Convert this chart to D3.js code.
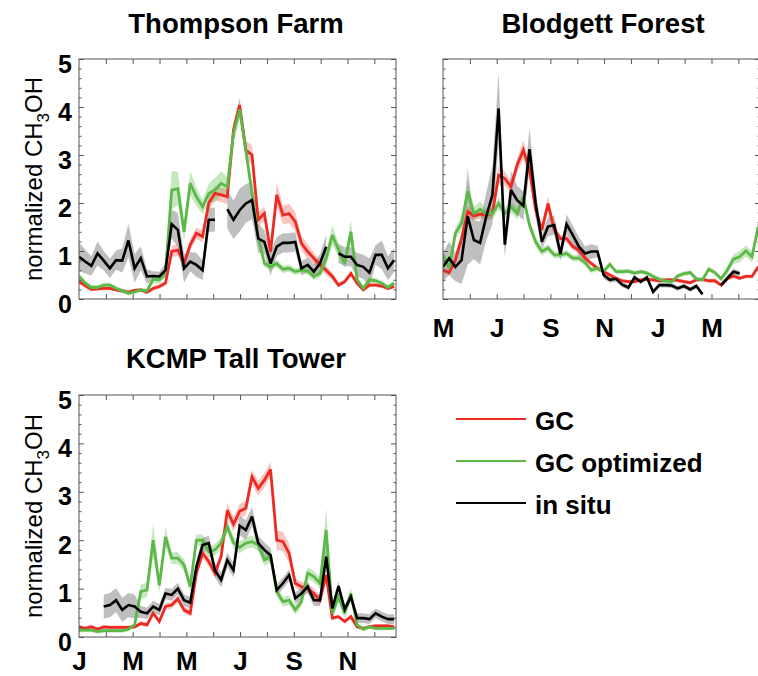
<!DOCTYPE html>
<html><head><meta charset="utf-8">
<script src="https://cdn.jsdelivr.net/npm/d3@7"></script>
<style>body{margin:0;background:#fff}svg{display:block}text{font-family:"Liberation Sans",Arial,Helvetica,sans-serif}</style>
</head><body><svg id="c" width="758" height="676"></svg>
<script>
// ---------- data (weekly values, week 0 = first week of the first month shown) ----------
const weeks = d3.range(52);
const yTickValues = [0, 1, 2, 3, 4, 5];
const monthTickIdx = [1, 2, 3, 4, 5, 6, 7, 8, 9, 10, 11];
const janLabels = ["J", "M", "M", "J", "S", "N"];
const mayLabels = ["M", "J", "S", "N", "J", "M"];
const labelMonths = [0, 2, 4, 6, 8, 10];
const legendLabels = ["GC", "GC optimized", "in situ"];
const titles = ["Thompson Farm", "Blodgett Forest", "KCMP Tall Tower"];

// Thompson Farm (Jan - Dec)
const tfGC = [0.36,0.28,0.2,0.21,0.22,0.22,0.19,0.17,0.14,0.18,0.19,0.14,0.22,0.26,0.33,0.99,1.02,0.74,1.13,1.37,1.3,2.0,2.2,2.17,2.13,3.52,4.04,3.1,3.0,1.65,1.78,0.99,2.17,1.75,1.78,1.61,1.16,0.99,0.85,0.71,0.6,0.47,0.29,0.36,0.53,0.33,0.19,0.29,0.29,0.27,0.22,0.26];
const tfOpt = [0.47,0.33,0.24,0.24,0.29,0.29,0.22,0.17,0.12,0.15,0.19,0.17,0.41,0.4,0.57,2.27,2.3,1.4,2.41,2.13,1.92,2.2,2.27,2.41,2.34,3.45,3.95,3.1,2.2,1.3,0.74,0.67,0.74,0.62,0.64,0.57,0.6,0.58,0.47,0.53,0.85,1.33,1.02,0.74,1.4,0.4,0.22,0.4,0.38,0.33,0.24,0.33];
const tfObs = [0.88,0.78,0.69,0.95,0.8,0.64,0.81,0.8,1.22,0.64,0.85,0.47,0.48,0.47,0.6,1.56,1.44,0.64,0.78,0.71,0.6,1.65,1.65,null,1.87,1.65,1.85,1.99,2.06,1.26,1.19,0.74,1.09,1.17,1.17,1.19,0.64,0.71,0.57,0.74,1.09,null,0.95,0.88,0.88,0.71,0.67,0.55,0.92,0.92,0.64,0.81];
const tfGCsd = [0.05,0.05,0.04,0.04,0.04,0.04,0.04,0.04,0.04,0.04,0.04,0.04,0.04,0.05,0.05,0.12,0.12,0.1,0.12,0.12,0.12,0.15,0.15,0.15,0.15,0.15,0.15,0.2,0.2,0.15,0.15,0.1,0.25,0.2,0.2,0.2,0.15,0.15,0.12,0.1,0.1,0.08,0.05,0.05,0.05,0.05,0.04,0.04,0.04,0.04,0.04,0.04];
const tfOptSd = [0.08,0.06,0.05,0.05,0.05,0.05,0.05,0.05,0.04,0.04,0.04,0.05,0.08,0.08,0.1,0.4,0.35,0.2,0.25,0.2,0.15,0.2,0.25,0.25,0.2,0.2,0.2,0.2,0.15,0.1,0.08,0.08,0.08,0.08,0.08,0.07,0.07,0.07,0.07,0.08,0.15,0.2,0.15,0.1,0.25,0.08,0.06,0.06,0.06,0.05,0.05,0.06];
const tfObsSd = [0.3,0.25,0.2,0.25,0.2,0.2,0.2,0.25,0.35,0.3,0.25,0.15,0.1,0.1,0.15,0.3,0.35,0.3,0.2,0.25,0.2,0.25,0.25,0.3,0.4,0.4,0.45,0.4,0.4,0.3,0.25,0.25,0.2,0.2,0.2,0.2,0.15,0.15,0.15,0.2,0.25,0.2,0.2,0.2,0.2,0.25,0.25,0.3,0.2,0.3,0.25,0.25];

// Blodgett Forest (May - Apr)
const bfGC = [0.6,0.55,0.81,1.26,1.82,1.73,1.77,1.75,1.78,2.58,2.51,2.34,2.79,3.1,2.69,1.85,1.44,1.99,1.44,1.26,1.26,1.09,1.02,0.85,0.74,0.64,0.57,0.5,0.43,0.38,0.36,0.36,0.4,0.41,0.4,0.38,0.4,0.4,0.39,0.36,0.34,0.4,0.41,0.38,0.38,0.29,0.42,0.48,0.43,0.47,0.47,0.67];
const bfOpt = [0.92,0.64,1.37,1.58,2.24,1.78,1.87,1.77,1.78,1.99,1.78,1.92,1.78,2.13,1.54,1.19,0.99,1.06,0.92,0.92,0.95,0.85,0.85,0.76,0.6,0.64,0.58,0.72,0.57,0.57,0.58,0.54,0.57,0.54,0.47,0.41,0.38,0.36,0.48,0.53,0.55,0.42,0.4,0.62,0.55,0.42,0.6,0.83,0.88,1.0,0.88,1.5];
const bfObs = [0.67,0.85,0.67,0.81,1.72,1.23,1.17,1.72,2.17,3.97,1.13,2.27,2.06,1.94,3.12,1.99,1.19,1.51,1.54,0.94,1.56,1.33,1.09,0.95,0.99,0.99,0.5,0.4,0.42,0.3,0.24,0.45,0.36,0.45,0.15,0.29,0.29,0.28,0.22,0.27,0.2,0.27,0.1,null,null,0.29,0.43,0.57,0.53,null,null,null];
const bfGCsd = [0.06,0.06,0.08,0.1,0.12,0.1,0.1,0.1,0.1,0.2,0.15,0.12,0.15,0.2,0.15,0.12,0.1,0.15,0.1,0.08,0.08,0.07,0.07,0.06,0.05,0.05,0.04,0.04,0.04,0.04,0.04,0.04,0.04,0.04,0.04,0.04,0.04,0.04,0.04,0.04,0.04,0.04,0.04,0.04,0.04,0.04,0.04,0.04,0.04,0.04,0.04,0.05];
const bfOptSd = [0.1,0.1,0.12,0.15,0.2,0.15,0.15,0.12,0.12,0.12,0.12,0.12,0.12,0.12,0.12,0.1,0.08,0.08,0.07,0.07,0.07,0.07,0.07,0.06,0.06,0.06,0.05,0.05,0.05,0.05,0.05,0.05,0.05,0.05,0.05,0.05,0.05,0.05,0.05,0.05,0.05,0.05,0.05,0.05,0.05,0.05,0.08,0.1,0.12,0.12,0.12,0.15];
const bfObsSd = [0.3,0.35,0.3,0.5,1.0,0.4,0.45,0.5,0.6,0.75,0.25,0.4,0.3,0.3,0.45,0.3,0.15,0.2,0.2,0.15,0.2,0.2,0.2,0.15,0.15,0.12,0.08,0.06,0.06,0.05,0.05,0.05,0.05,0.05,0.05,0.05,0.05,0.05,0.05,0.05,0.05,0.05,0.05,0.05,0.05,0.05,0.06,0.06,0.06,0.05,0.05,0.05];

// KCMP Tall Tower (Jan - Dec)
const kcGC = [0.21,0.18,0.21,0.16,0.21,0.2,0.2,0.2,0.2,0.21,0.28,0.25,0.49,0.32,0.63,0.66,0.79,0.56,0.49,1.32,1.73,1.56,1.32,1.66,2.62,2.33,2.6,2.66,3.31,3.07,3.24,3.46,2.0,1.97,1.73,1.11,1.04,1.0,0.9,0.76,1.28,0.39,0.42,0.32,0.42,0.21,0.18,0.21,0.23,0.23,0.23,0.21];
const kcOpt = [0.14,0.14,0.14,0.11,0.13,0.13,0.13,0.13,0.16,0.25,0.94,0.97,2.0,1.07,2.07,1.63,1.63,1.49,1.04,2.0,2.0,1.76,1.8,1.94,2.28,1.95,1.85,1.94,1.97,1.9,1.59,1.66,0.94,0.73,0.76,0.56,0.73,1.32,1.25,1.11,2.21,0.49,0.83,0.49,0.9,0.25,0.16,0.21,0.18,0.18,0.18,0.18];
const kcObs = [null,null,null,null,0.63,0.66,0.76,0.56,0.66,0.63,0.52,0.49,0.63,0.56,0.9,0.87,1.0,0.76,0.71,1.45,1.9,1.94,1.38,1.18,1.59,1.38,2.3,2.21,2.49,1.94,1.8,1.69,0.97,1.11,1.28,0.8,0.9,1.04,0.76,0.76,1.66,0.59,1.05,0.57,0.83,0.39,0.39,0.37,0.49,0.42,0.37,0.37];
const kcGCsd = [0.04,0.04,0.04,0.04,0.04,0.04,0.04,0.04,0.04,0.04,0.05,0.05,0.05,0.05,0.07,0.07,0.07,0.07,0.07,0.1,0.1,0.1,0.1,0.1,0.15,0.15,0.15,0.15,0.15,0.15,0.15,0.15,0.2,0.2,0.2,0.1,0.1,0.1,0.1,0.1,0.1,0.04,0.04,0.04,0.04,0.04,0.04,0.04,0.04,0.04,0.04,0.04];
const kcOptSd = [0.04,0.04,0.04,0.04,0.04,0.04,0.04,0.04,0.04,0.04,0.15,0.15,0.35,0.15,0.2,0.12,0.12,0.12,0.12,0.12,0.12,0.12,0.12,0.12,0.12,0.12,0.12,0.12,0.12,0.12,0.12,0.12,0.1,0.1,0.1,0.1,0.1,0.12,0.12,0.12,0.45,0.12,0.12,0.12,0.12,0.04,0.04,0.04,0.04,0.04,0.04,0.04];
const kcObsSd = [0,0,0,0,0.25,0.25,0.25,0.25,0.25,0.25,0.12,0.12,0.12,0.12,0.12,0.12,0.12,0.12,0.12,0.15,0.15,0.15,0.15,0.15,0.15,0.15,0.2,0.2,0.2,0.15,0.15,0.15,0.12,0.12,0.12,0.12,0.12,0.12,0.12,0.12,0.2,0.1,0.1,0.1,0.1,0.1,0.1,0.1,0.1,0.1,0.1,0.1];

// ---------- drawing ----------
const RED = "#ec2a22", GREEN = "#5cb947", BLACK = "#000000";
const WPM = 52.14 / 12;               // weeks per month
const svg = d3.select("#c");
svg.append("rect").attr("width", 758).attr("height", 676).attr("fill", "#fff");

const panels = [
  {id: "tf", x0: 79, yb: 299, yt: 59, title: titles[0], tx: 236, ty: 33, ylab: true, xlab: null,
   series: [[tfGC, tfGCsd], [tfOpt, tfOptSd], [tfObs, tfObsSd]]},
  {id: "bf", x0: 443, yb: 299, yt: 59, title: titles[1], tx: 603, ty: 33, ylab: false, xlab: mayLabels, xlabY: 337,
   series: [[bfGC, bfGCsd], [bfOpt, bfOptSd], [bfObs, bfObsSd]]},
  {id: "kc", x0: 79, yb: 637, yt: 395, title: titles[2], tx: 236, ty: 368, ylab: true, xlab: janLabels, xlabY: 670,
   series: [[kcGC, kcGCsd], [kcOpt, kcOptSd], [kcObs, kcObsSd]]}
];
const colors = [RED, GREEN, BLACK];
const bandFill = ["rgba(236,42,34,0.28)", "rgba(92,185,71,0.35)", "rgba(0,0,0,0.25)"];
const frameCol = "#555";

panels.forEach(p => {
  const x = d3.scaleLinear().domain([0, 51.3]).range([p.x0, p.x0 + 317]);
  const y = d3.scaleLinear().domain([0, 5]).range([p.yb, p.yt]);
  const g = svg.append("g");
  const [xa, xb] = x.range();

  g.append("clipPath").attr("id", "clip-" + p.id)
    .append("rect").attr("x", xa).attr("y", p.yt).attr("width", xb - xa).attr("height", p.yb - p.yt);
  const plot = g.append("g").attr("clip-path", `url(#clip-${p.id})`);

  // bands: in situ (grey) first, then GC, GC optimized
  [2, 0, 1].forEach(k => {
    const [vals, sd] = p.series[k];
    const area = d3.area()
      .defined(i => vals[i] != null)
      .x(i => x(i))
      .y0(i => y(Math.max(0, vals[i] - sd[i])))
      .y1(i => y(vals[i] + sd[i]));
    plot.append("path").datum(weeks).attr("d", area).attr("fill", bandFill[k]).attr("stroke", "none");
  });
  // lines
  [0, 1, 2].forEach(k => {
    const vals = p.series[k][0];
    const line = d3.line().defined(i => vals[i] != null).x(i => x(i)).y(i => y(vals[i]));
    plot.append("path").datum(weeks).attr("d", line).attr("fill", "none")
      .attr("stroke", colors[k]).attr("stroke-width", k === 2 ? 2.6 : 2.8)
      .attr("stroke-linejoin", "miter").attr("stroke-miterlimit", 3);
  });

  // ticks via d3 axes (inside)
  const mTicks = monthTickIdx.map(m => m * WPM);
  const styleAx = sel => { sel.select(".domain").remove(); sel.selectAll("line").attr("stroke", frameCol); sel.selectAll("text").remove(); };
  g.append("g").attr("transform", `translate(0,${p.yb})`).call(d3.axisBottom(x).tickValues(mTicks).tickSize(-5)).call(styleAx);
  g.append("g").attr("transform", `translate(0,${p.yt})`).call(d3.axisTop(x).tickValues(mTicks).tickSize(-5)).call(styleAx);
  const minor = d3.range(0, 26).map(i => i * 0.2).filter(v => Math.abs(v - Math.round(v)) > 1e-6);
  g.append("g").attr("transform", `translate(${xa},0)`).call(d3.axisLeft(y).tickValues(yTickValues).tickSize(-5)).call(styleAx);
  g.append("g").attr("transform", `translate(${xa},0)`).call(d3.axisLeft(y).tickValues(minor).tickSize(-2.5)).call(styleAx);
  g.append("g").attr("transform", `translate(${xb},0)`).call(d3.axisRight(y).tickValues(yTickValues).tickSize(-5)).call(styleAx);
  g.append("g").attr("transform", `translate(${xb},0)`).call(d3.axisRight(y).tickValues(minor).tickSize(-2.5)).call(styleAx);

  g.append("rect").attr("x", xa).attr("y", p.yt).attr("width", xb - xa).attr("height", p.yb - p.yt)
    .attr("fill", "none").attr("stroke", frameCol).attr("stroke-width", 1);

  // y tick labels
  if (p.ylab) {
    const ay = g.append("g").attr("transform", `translate(${xa},0)`)
      .call(d3.axisLeft(y).tickValues(yTickValues).tickSize(0).tickPadding(7).tickFormat(d3.format("d")));
    ay.select(".domain").remove();
    ay.selectAll("text").attr("font-size", 25).attr("font-weight", "bold").attr("fill", "#000")
      .attr("font-family", '"Liberation Sans",Arial,sans-serif').attr("dy", "0.52em");
    // axis title
    const t = g.append("text").attr("transform", `translate(42,${(p.yt + p.yb) / 2}) rotate(-90)`)
      .attr("text-anchor", "middle").attr("font-size", 24).attr("fill", "#000");
    t.append("tspan").text("normalized CH");
    t.append("tspan").text("3").attr("font-size", 17).attr("dy", 7);
    t.append("tspan").text("OH").attr("dy", -7);
  }
  // x month labels
  if (p.xlab) {
    const ax = g.append("g").attr("transform", `translate(0,${p.xlabY})`)
      .call(d3.axisBottom(x).tickValues(labelMonths.map(m => m * WPM)).tickSize(0)
        .tickFormat((d, i) => p.xlab[i]));
    ax.select(".domain").remove();
    ax.selectAll("text").attr("y", 0).attr("dy", 0).attr("font-size", 26).attr("font-weight", "bold")
      .attr("fill", "#000").attr("font-family", '"Liberation Sans",Arial,sans-serif');
  }
  // title
  g.append("text").attr("x", p.tx).attr("y", p.ty).attr("text-anchor", "middle")
    .attr("font-size", 27.5).attr("font-weight", "bold").attr("fill", "#000").text(p.title);
});

// legend
const lg = svg.append("g");
const ly = d3.scalePoint().domain(legendLabels).range([419, 503]);
legendLabels.forEach((lab, i) => {
  lg.append("line").attr("x1", 456).attr("x2", 526).attr("y1", ly(lab)).attr("y2", ly(lab))
    .attr("stroke", colors[i]).attr("stroke-width", 2);
  lg.append("text").attr("x", 535).attr("y", ly(lab) + 11).attr("font-size", 26).attr("font-weight", "bold")
    .attr("fill", "#000").text(lab);
});
</script></body></html>
